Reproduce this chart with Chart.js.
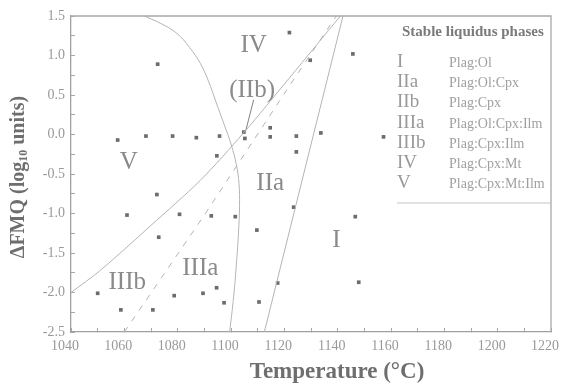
<!DOCTYPE html>
<html>
<head>
<meta charset="utf-8">
<script src="https://cdn.jsdelivr.net/npm/chart.js@4/dist/chart.umd.min.js"></script>
<style>
  html, body { margin: 0; padding: 0; background: #fff; }
  #wrap { width: 561px; height: 385px; }
</style>
</head>
<body>
<div id="wrap"><canvas id="chart"></canvas></div>
<script>
// experimental run conditions: temperature (°C) and oxygen fugacity (ΔFMQ)
const runTemps = [1072.5, 1057.5, 1068.1, 1078.1, 1087.0, 1072.2, 1061.0, 1080.7, 1072.9, 1050.0,
  1058.7, 1070.7, 1078.7, 1121.9, 1145.7, 1129.7, 1095.7, 1104.8, 1105.2, 1114.7,
  1114.7, 1124.5, 1124.5, 1133.7, 1094.7, 1092.6, 1101.6, 1109.7, 1123.5, 1146.6,
  1089.5, 1094.6, 1097.4, 1110.5, 1117.5, 1147.9, 1157.2];
const runFmq = [0.89, -0.07, -0.02, -0.02, -0.04, -0.76, -1.02, -1.01, -1.30, -2.01,
  -2.22, -2.22, -2.04, 1.29, 1.02, 0.94, -0.02, 0.03, -0.05, 0.085,
  -0.03, -0.02, -0.22, 0.02, -0.27, -1.03, -1.04, -1.21, -0.92, -1.04,
  -2.01, -1.94, -2.13, -2.12, -1.88, -1.87, -0.03];

// phase boundaries
const curveT = [1067.5, 1074, 1079.7, 1084.5, 1088.5, 1091.5, 1094.5, 1097.5, 1100, 1102, 1103, 1103.2, 1102.8, 1102, 1101, 1099.5];
const curveF = [1.5, 1.4, 1.28, 1.1, 0.9, 0.68, 0.4, 0.12, -0.12, -0.38, -0.62, -0.9, -1.25, -1.65, -2.05, -2.5];
const mtT = [1040, 1051, 1070, 1088.5, 1104.7, 1122, 1141];
const mtF = [-2.0, -1.72, -1.15, -0.58, 0.02, 0.72, 1.5];
const dashT = [1060, 1090, 1122, 1139.5];
const dashF = [-2.5, -1.02, 0.62, 1.5];
const olT = [1142, 1112.5];
const olF = [1.5, -2.5];
const pointerT = [1108.5, 1105.4];
const pointerF = [0.44, 0.03];

// field labels, placed in data units
const fieldNames = ['IV', '(IIb)', 'V', 'IIa', 'I', 'IIIb', 'IIIa'];
const fieldT = [1108.5, 1107.9, 1061.7, 1114.7, 1139.5, 1061.1, 1088.5];
const fieldF = [1.145, 0.575, -0.347, -0.61, -1.326, -1.859, -1.677];

// key
const keyTitle = 'Stable liquidus phases';
const keyCodes = ['I', 'IIa', 'IIb', 'IIIa', 'IIIb', 'IV', 'V'];
const keyPhases = ['Plag:Ol', 'Plag:Ol:Cpx', 'Plag:Cpx', 'Plag:Ol:Cpx:Ilm', 'Plag:Cpx:Ilm', 'Plag:Cpx:Mt', 'Plag:Cpx:Mt:Ilm'];

const SERIF = '"Liberation Serif", "Times New Roman", serif';

function pairs(xs, ys) {
  return xs.map((x, i) => ({ x: x, y: ys[i] }));
}

function lineSet(xs, ys, extra) {
  return Object.assign({
    type: 'line',
    data: pairs(xs, ys),
    borderColor: '#b4b4b4',
    borderWidth: 1,
    pointRadius: 0,
    fill: false,
    tension: 0
  }, extra || {});
}

// no extra room for the end tick labels
function noEdgePadding(scale) {
  scale.paddingLeft = 0;
  scale.paddingRight = 0;
  scale.paddingTop = 0;
  scale.paddingBottom = 0;
}

// frame, field names, key and axis titles
const decorations = {
  id: 'decorations',
  afterDraw(chart) {
    const ctx = chart.ctx;
    const a = chart.chartArea;
    const xs = chart.scales.x, ys = chart.scales.y;
    ctx.save();

    ctx.strokeStyle = '#a8a8a8';
    ctx.lineWidth = 1.3;
    ctx.beginPath();
    ctx.moveTo(a.left, a.top);
    ctx.lineTo(a.right, a.top);
    ctx.lineTo(a.right, a.bottom);
    ctx.stroke();

    ctx.fillStyle = '#8a8a8a';
    ctx.textAlign = 'center';
    ctx.textBaseline = 'middle';
    ctx.font = '25px ' + SERIF;
    fieldNames.forEach((name, i) => {
      ctx.fillText(name, xs.getPixelForValue(fieldT[i]), ys.getPixelForValue(fieldF[i]) + 1);
    });

    // key box
    const kx = a.right - 154;
    ctx.strokeStyle = '#c4c4c4';
    ctx.lineWidth = 1;
    ctx.beginPath();
    ctx.moveTo(kx, a.top + 187);
    ctx.lineTo(a.right, a.top + 187);
    ctx.stroke();

    ctx.fillStyle = '#7a7a7a';
    ctx.font = 'bold 15px ' + SERIF;
    ctx.textAlign = 'left';
    ctx.textBaseline = 'alphabetic';
    ctx.fillText(keyTitle, kx + 5, a.top + 20);
    keyCodes.forEach((code, i) => {
      const by = a.top + 51 + i * 20.2;
      ctx.fillStyle = '#999';
      ctx.font = '19px ' + SERIF;
      ctx.fillText(code, kx, by);
      ctx.font = '14px ' + SERIF;
      ctx.fillStyle = '#a0a0a0';
      ctx.fillText(keyPhases[i], kx + 52, by);
    });

    // axis titles
    ctx.fillStyle = '#6e6e6e';
    ctx.font = 'bold 23px ' + SERIF;
    ctx.textAlign = 'center';
    ctx.textBaseline = 'middle';
    ctx.fillText('Temperature (°C)', 337, 372);

    ctx.translate(19, 177);
    ctx.rotate(-Math.PI / 2);
    ctx.font = 'bold 20px ' + SERIF;
    const p1 = 'ΔFMQ (log', sub = '10', p2 = ' units)';
    const w1 = ctx.measureText(p1).width;
    const w2 = ctx.measureText(p2).width;
    ctx.font = 'bold 12px ' + SERIF;
    const ws = ctx.measureText(sub).width;
    const x0 = -(w1 + ws + w2) / 2;
    ctx.textAlign = 'left';
    ctx.font = 'bold 20px ' + SERIF;
    ctx.fillText(p1, x0, 0);
    ctx.font = 'bold 12px ' + SERIF;
    ctx.fillText(sub, x0 + w1, 5);
    ctx.font = 'bold 20px ' + SERIF;
    ctx.fillText(p2, x0 + w1 + ws, 0);

    ctx.restore();
  }
};

new Chart(document.getElementById('chart'), {
  type: 'scatter',
  data: {
    datasets: [
      lineSet(curveT, curveF, { tension: 0.4 }),
      lineSet(mtT, mtF, { tension: 0.3 }),
      lineSet(dashT, dashF, { borderDash: [6, 7] }),
      lineSet(olT, olF),
      lineSet(pointerT, pointerF, { borderColor: '#808080' }),
      {
        type: 'scatter',
        data: pairs(runTemps, runFmq),
        pointStyle: 'rect',
        pointRadius: 2.6,
        backgroundColor: '#6c6c6c',
        borderWidth: 0
      }
    ]
  },
  options: {
    responsive: true,
    maintainAspectRatio: false,
    animation: false,
    layout: { padding: { top: 16, right: 10, left: 0, bottom: 0 } },
    plugins: { legend: { display: false }, tooltip: { enabled: false } },
    scales: {
      x: {
        type: 'linear',
        min: 1040,
        max: 1220,
        afterFit(scale) { scale.height = 53; noEdgePadding(scale); },
        border: { color: '#a0a0a0', width: 1.3 },
        grid: { drawOnChartArea: false, tickLength: -4, color: '#a8a8a8' },
        ticks: {
          stepSize: 10,
          autoSkip: false,
          maxRotation: 0,
          padding: 10,
          labelOffset: -6,
          color: '#999',
          font: { family: SERIF, size: 14 },
          callback: v => (v % 20 === 0 ? String(v) : '')
        }
      },
      y: {
        type: 'linear',
        min: -2.5,
        max: 1.5,
        afterFit(scale) { scale.width = 71; noEdgePadding(scale); },
        border: { color: '#a0a0a0', width: 1.3 },
        grid: { drawOnChartArea: false, tickLength: -4, color: '#a8a8a8' },
        ticks: {
          stepSize: 0.25,
          autoSkip: false,
          padding: 10,
          color: '#999',
          font: { family: SERIF, size: 14 },
          callback: v => {
            if (Math.abs(v * 2 - Math.round(v * 2)) > 1e-6) return '';
            return Math.abs(v) < 1e-9 ? '0.0' : v.toFixed(1);
          }
        }
      }
    }
  },
  plugins: [decorations]
});
</script>
</body>
</html>
